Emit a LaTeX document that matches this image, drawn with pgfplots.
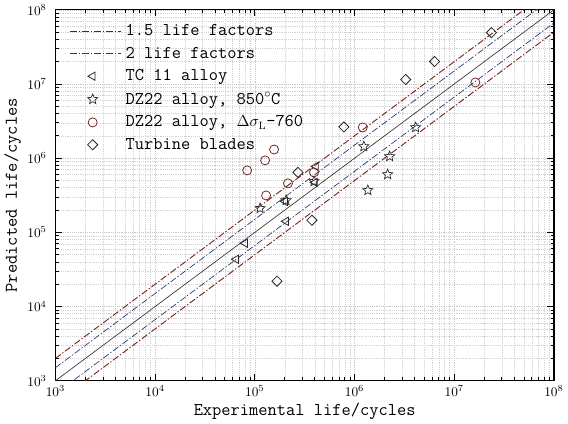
\documentclass[border=0pt]{standalone}
\usepackage{pgfplots}
\pgfplotsset{compat=1.18}

\definecolor{factA}{RGB}{45,45,110}   % 1.5 life factors
\definecolor{factB}{RGB}{125,35,35}   % 2 life factors
\definecolor{circred}{RGB}{120,40,40}

% outlined five-point star
\pgfdeclareplotmark{ostar}{%
  \pgfpathmoveto{\pgfpointpolar{90}{\pgfplotmarksize}}%
  \pgfpathlineto{\pgfpointpolar{126}{0.45\pgfplotmarksize}}%
  \pgfpathlineto{\pgfpointpolar{162}{\pgfplotmarksize}}%
  \pgfpathlineto{\pgfpointpolar{198}{0.45\pgfplotmarksize}}%
  \pgfpathlineto{\pgfpointpolar{234}{\pgfplotmarksize}}%
  \pgfpathlineto{\pgfpointpolar{270}{0.45\pgfplotmarksize}}%
  \pgfpathlineto{\pgfpointpolar{306}{\pgfplotmarksize}}%
  \pgfpathlineto{\pgfpointpolar{342}{0.45\pgfplotmarksize}}%
  \pgfpathlineto{\pgfpointpolar{18}{\pgfplotmarksize}}%
  \pgfpathlineto{\pgfpointpolar{54}{0.45\pgfplotmarksize}}%
  \pgfpathclose\pgfusepathqstroke}

\tikzset{
  lifeline/.style={line width=0.7pt, dash pattern=on 5pt off 1.5pt on 1pt off 1.5pt},
}
\pgfplotsset{
  lineleg/.style={legend image code/.code={\draw[##1] (0pt,0pt) -- (38pt,0pt);}},
  markleg/.style={legend image code/.code={\draw[##1] plot coordinates {(17pt,0pt)};}},
}

\begin{document}
\begin{tikzpicture}
\begin{axis}[
  width=375pt, height=279pt, scale only axis,
  xmode=log, ymode=log,
  xmin=1e3, xmax=1e8, ymin=1e3, ymax=1e8,
  tick align=inside,
  major tick length=5pt, minor tick length=2.5pt,
  every tick/.style={black, line width=0.6pt},
  axis line style={line width=1pt},
  grid=both,
  major grid style={densely dotted, gray!45, line width=0.4pt},
  minor grid style={densely dotted, gray!35, line width=0.4pt},
  xlabel={Experimental life/cycles},
  ylabel={Predicted life/cycles},
  label style={font=\ttfamily\fontsize{13.5}{15}\selectfont},
  xlabel style={yshift=2pt},
  ylabel style={yshift=-2pt},
  tick label style={font=\fontsize{10}{12}\selectfont},
  yticklabel style={xshift=-3pt},
  legend style={at={(0.02,0.975)}, anchor=north west, draw=none, fill=none,
    font=\ttfamily\fontsize{13.5}{15}\selectfont, row sep=3pt,
    nodes={inner sep=2pt},
    /tikz/every odd column/.append style={column sep=1.5pt}},
  legend cell align=left,
]
% legend lines
\addplot[factA, lifeline, line width=0.5pt, lineleg]
  coordinates {(1e3,1.5e3) (1e8,1.5e8)};
\addlegendentry{1.5 life factors}
\addplot[factB, lifeline, lineleg]
  coordinates {(1e3,2e3) (1e8,2e8)};
\addlegendentry{2 life factors}

% TC 11 alloy
\addplot[only marks, mark=triangle, mark size=3.6pt, black!85,
  mark options={rotate=90, line width=0.6pt}, markleg]
  coordinates {
    (65000,43400) (80000,71300) (201000,262000) (205600,141000)
    (410000,776000) (401000,472000)
  };
\addlegendentry{TC 11 alloy}

% DZ22 alloy, 850C
\addplot[only marks, mark=ostar, mark size=4pt, black!85,
  mark options={line width=0.5pt}, markleg]
  coordinates {
    (113000,211000) (205600,270000) (392000,487000) (1.36e6,369000)
    (2.15e6,605000) (2.25e6,1.057e6) (1.24e6,1.44e6) (4.10e6,2.60e6)
  };
\addlegendentry{DZ22 alloy, 850$^{\circ}$C}

% DZ22 alloy, delta sigma
\addplot[only marks, mark=o, mark size=3.4pt, circred,
  mark options={line width=0.6pt}, markleg]
  coordinates {
    (83800,685000) (126800,934000) (156000,1.31e6) (215000,458000)
    (129700,315000) (392000,644000) (1.21e6,2.60e6) (1.63e7,1.05e7)
  };
\addlegendentry{DZ22 alloy, {\fontsize{12}{14}\selectfont$\Delta\sigma_{\mathrm{L}}$}-760}

% Turbine blades
\addplot[only marks, mark=square, mark size=2.7pt, black!85,
  mark options={rotate=45, line width=0.6pt}, markleg]
  coordinates {
    (271000,644000) (782000,2.64e6) (3.26e6,1.15e7) (6.35e6,2.01e7)
    (2.36e7,4.93e7) (374000,145600) (167000,22000)
  };
\addlegendentry{Turbine blades}

% remaining scatter-band lines
\addplot[black!80, line width=0.5pt, forget plot] coordinates {(1e3,1e3) (1e8,1e8)};
\addplot[factA, lifeline, line width=0.5pt, forget plot] coordinates {(1e3,666.7) (1e8,6.667e7)};
\addplot[factB, lifeline, forget plot] coordinates {(1e3,500) (1e8,5e7)};
\end{axis}
\end{tikzpicture}
\end{document}
